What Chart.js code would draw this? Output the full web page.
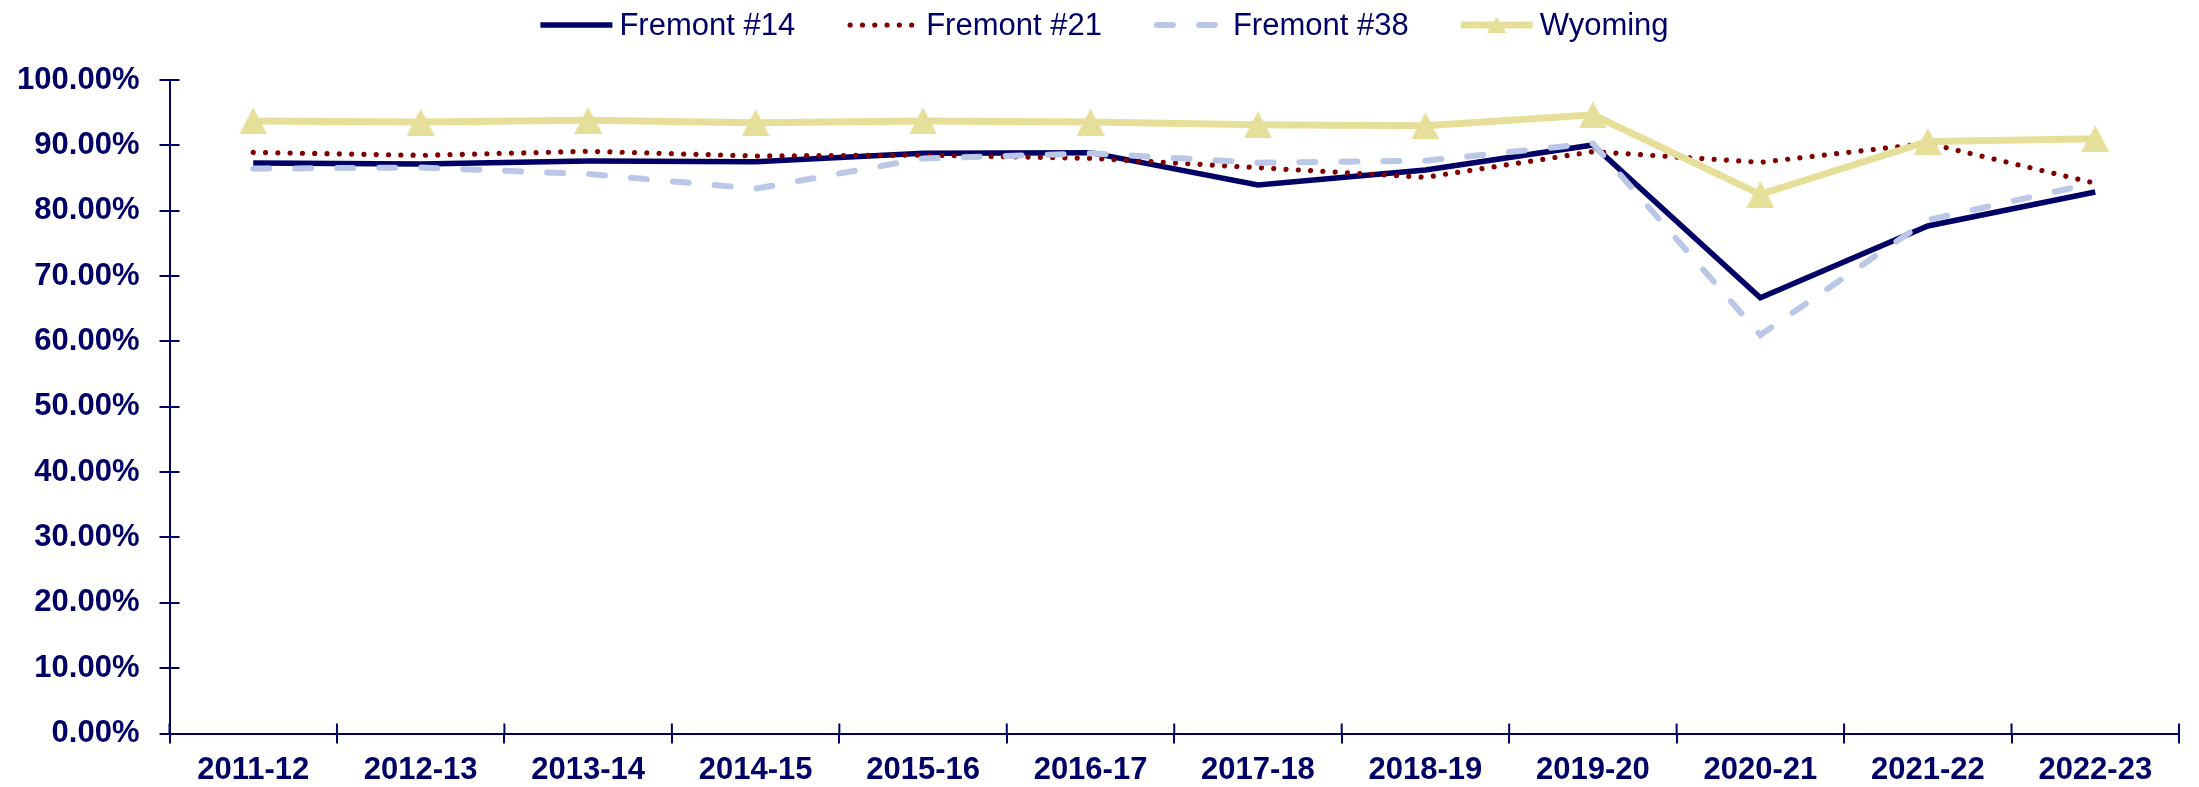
<!DOCTYPE html>
<html><head><meta charset="utf-8">
<script src="https://cdn.jsdelivr.net/npm/chart.js@4/dist/chart.umd.min.js"></script>
<style>html,body{margin:0;padding:0;background:#fff;overflow:hidden}#wrap{width:2199px;height:787px;position:relative}</style>
</head><body><div id="wrap"><canvas id="c" width="2199" height="787"></canvas></div>
<script>
const categories = ['2011-12','2012-13','2013-14','2014-15','2015-16','2016-17','2017-18','2018-19','2019-20','2020-21','2021-22','2022-23'];
const fremont14 = [87.3, 87.15, 87.6, 87.5, 88.78, 88.88, 83.93, 86.23, 90.05, 66.69, 77.66, 82.86];
const fremont21 = [88.93, 88.47, 89.09, 88.37, 88.52, 88.02, 86.58, 85.11, 89.03, 87.4, 90.31, 84.2];
const fremont38 = [86.43, 86.6, 85.62, 83.37, 88.0, 88.78, 87.35, 87.65, 90.3, 60.98, 78.58, 84.29];
const wyoming   = [93.73, 93.57, 93.83, 93.47, 93.73, 93.57, 93.16, 93.0, 94.67, 82.5, 90.6, 91.02];
const seriesNames = ['Fremont #14','Fremont #21','Fremont #38','Wyoming'];
const yMin = 0, yMax = 100, yStep = 10;

const NAVY = '#000066';
const FONT = "'Liberation Sans', Arial, sans-serif";

function makeTriangle(w, h, color) {
  const c = document.createElement('canvas');
  c.width = w; c.height = h;
  const x = c.getContext('2d');
  x.fillStyle = color;
  x.beginPath(); x.moveTo(w/2, 0); x.lineTo(w, h); x.lineTo(0, h); x.closePath(); x.fill();
  return c;
}
const tri = makeTriangle(28, 27, '#E6DF99');
const triSmall = makeTriangle(20, 16, '#E6DF99');

const datasets = [
  {label: seriesNames[0], data: fremont14, borderColor: NAVY, borderWidth: 5.5, pointRadius: 0, order: 3},
  {label: seriesNames[1], data: fremont21, borderColor: '#800000', borderWidth: 5.2, borderDash: [0.001, 12.3], borderCapStyle: 'round', pointRadius: 0, order: 2},
  {label: seriesNames[2], data: fremont38, borderColor: '#BBC7E6', borderWidth: 6, borderDash: [16, 26], borderCapStyle: 'round', pointRadius: 0, order: 1},
  {label: seriesNames[3], data: wyoming, borderColor: '#E6DF99', borderWidth: 7, pointStyle: tri, pointRadius: 13, order: 0}
];
datasets.forEach(d => { d.fill = false; d.tension = 0; d.backgroundColor = d.borderColor; });

const crossTicks = {
  id: 'crossTicks',
  afterDraw(chart) {
    const ctx = chart.ctx, xs = chart.scales.x, ys = chart.scales.y;
    ctx.save();
    ctx.strokeStyle = NAVY; ctx.lineWidth = 2;
    ys.ticks.forEach((t, i) => {
      const y = Math.round(ys.getPixelForTick(i));
      ctx.beginPath(); ctx.moveTo(ys.right, y); ctx.lineTo(ys.right + 10, y); ctx.stroke();
    });
    const n = categories.length;
    for (let i = 0; i <= n; i++) {
      const x = xs.left + i * (xs.width / n);
      ctx.beginPath(); ctx.moveTo(x, xs.top); ctx.lineTo(x, xs.top - 10); ctx.stroke();
    }
    ctx.restore();
  }
};

const customLegend = {
  id: 'customLegend',
  afterDraw(chart) {
    const ctx = chart.ctx;
    ctx.save();
    ctx.font = '31px ' + FONT;
    const sample = 72, gapT = 7, gapI = 52;
    const items = chart.data.datasets;
    const widths = items.map(d => ctx.measureText(d.label).width);
    const total = widths.reduce((a, w) => a + sample + gapT + w, 0) + gapI * (items.length - 1);
    let x = chart.width / 2 + 5 - total / 2;
    const y = 25;
    items.forEach((d, i) => {
      ctx.save();
      ctx.strokeStyle = d.borderColor;
      ctx.lineWidth = d.borderWidth;
      ctx.lineCap = d.borderCapStyle || 'butt';
      ctx.setLineDash(d.borderDash || []);
      ctx.beginPath(); ctx.moveTo(x + (d.borderDash ? 3 : 0), y); ctx.lineTo(x + sample, y); ctx.stroke();
      ctx.restore();
      if (d.pointStyle && typeof d.pointStyle === 'object') {
        ctx.drawImage(triSmall, x + sample/2 - triSmall.width/2, y - 8);
      }
      ctx.fillStyle = NAVY;
      ctx.textBaseline = 'middle';
      ctx.textAlign = 'left';
      ctx.fillText(d.label, x + sample + gapT, y + 1);
      x += sample + gapT + widths[i] + gapI;
    });
    ctx.restore();
  }
};

new Chart(document.getElementById('c'), {
  type: 'line',
  data: {labels: categories, datasets},
  plugins: [crossTicks, customLegend],
  options: {
    responsive: false,
    animation: false,
    events: [],
    layout: {padding: {top: 80, right: 13, left: 0, bottom: 0}},
    plugins: {legend: {display: false}, tooltip: {enabled: false}},
    scales: {
      x: {
        offset: true,
        grid: {offset: true, drawOnChartArea: false, drawTicks: true, tickLength: 10, color: NAVY, lineWidth: 2},
        border: {display: true, color: NAVY, width: 2},
        ticks: {color: NAVY, font: {family: FONT, size: 31, weight: 'bold'}, padding: 8, maxRotation: 0, autoSkip: false},
        afterFit(s) { s.height = 53.5; }
      },
      y: {
        min: yMin, max: yMax,
        grid: {drawOnChartArea: false, drawTicks: true, tickLength: 10, color: NAVY, lineWidth: 2},
        border: {display: true, color: NAVY, width: 2},
        ticks: {stepSize: yStep, color: NAVY, font: {family: FONT, size: 31, weight: 'bold'}, padding: 20,
                callback: v => v.toFixed(2) + '%'},
        afterFit(s) { s.width = 169.5; }
      }
    }
  }
});
</script></body></html>
